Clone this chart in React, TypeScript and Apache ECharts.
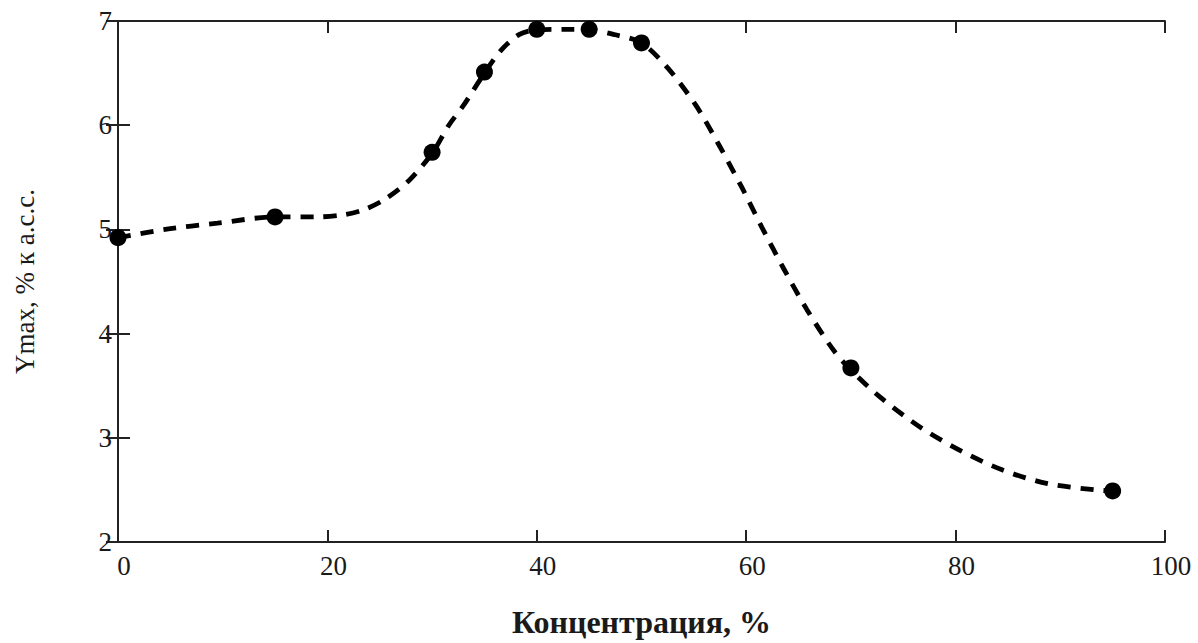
import React, { useEffect, useRef } from "react";
import * as echarts from "echarts";

const xTicks = [0, 20, 40, 60, 80, 100];
const yTicks = [2, 3, 4, 5, 6, 7];

// measured points (markers)
const pointsX = [0, 15, 30, 35, 40, 45, 50, 70, 95];
const pointsY = [4.92, 5.12, 5.74, 6.51, 6.92, 6.92, 6.79, 3.67, 2.49];

// dashed fitted curve
const curveX = [0, 4.5, 9.5, 15, 19, 21.5, 23.5, 25.5, 27.8, 30, 31.6, 33, 35, 36.6, 38.3, 40, 42.5, 45, 47.4, 50, 52.5, 55.2, 57.4, 59.6, 61.5, 63.6, 65.8, 68.2, 69.8, 72.8, 76.8, 80.6, 84.5, 88.8, 93.4, 95];
const curveY = [4.92, 5.0, 5.06, 5.12, 5.12, 5.14, 5.19, 5.29, 5.47, 5.73, 6.0, 6.19, 6.5, 6.72, 6.87, 6.915, 6.92, 6.915, 6.87, 6.79, 6.55, 6.19, 5.81, 5.4, 5.02, 4.62, 4.23, 3.86, 3.67, 3.39, 3.09, 2.87, 2.69, 2.56, 2.5, 2.49];

const xTitle = "Концентрация, %";
const yTitle = "Ymax, % к а.с.с.";

const FONT = "'Liberation Serif', 'DejaVu Serif', serif";
const INK = "#1a1a1a";

export default function App() {
  const ref = useRef<HTMLDivElement>(null);
  useEffect(() => {
    if (!ref.current) return;
    const chart = echarts.init(ref.current, undefined, { renderer: "svg" });
    const axisLine = { show: true, lineStyle: { color: "#222", width: 2 } };
    const axisTick = { show: true, inside: true, length: 12, lineStyle: { color: "#222", width: 2 } };
    const xMin = xTicks[0], xMax = xTicks[xTicks.length - 1];
    const yMin = yTicks[0], yMax = yTicks[yTicks.length - 1];
    chart.setOption({
      animation: false,
      backgroundColor: "#ffffff",
      grid: { left: 118, top: 21, right: 33, bottom: 95, containLabel: false },
      xAxis: [
        {
          type: "value", position: "bottom", min: xMin, max: xMax, interval: 20,
          axisLine, axisTick, splitLine: { show: false },
          axisLabel: { color: INK, fontFamily: FONT, fontSize: 27, margin: 10, padding: [0, 0, 0, 12] },
          name: xTitle, nameLocation: "middle", nameGap: 64,
          nameTextStyle: { color: INK, fontFamily: FONT, fontSize: 32, fontWeight: "bold" },
        },
        {
          type: "value", position: "top", min: xMin, max: xMax, interval: 20,
          axisLine, axisTick, splitLine: { show: false }, axisLabel: { show: false },
        },
      ],
      yAxis: [
        {
          type: "value", position: "left", min: yMin, max: yMax, interval: 1,
          axisLine, axisTick, splitLine: { show: false },
          axisLabel: { color: INK, fontFamily: FONT, fontSize: 27, margin: 6 },
          name: yTitle, nameLocation: "middle", nameGap: 80,
          nameTextStyle: { color: INK, fontFamily: FONT, fontSize: 27 },
        },
        {
          type: "value", position: "right", min: yMin, max: yMax, interval: 1,
          axisLine, axisTick, splitLine: { show: false }, axisLabel: { show: false },
        },
      ],
      series: [
        {
          type: "line",
          xAxisIndex: 0, yAxisIndex: 0,
          data: curveX.map((x, i) => [x, curveY[i]]),
          smooth: 0.3,
          showSymbol: false,
          symbol: "none",
          lineStyle: { color: "#000", width: 4.8, type: [13, 10] },
          z: 2,
        },
        {
          type: "scatter",
          xAxisIndex: 0, yAxisIndex: 0,
          data: pointsX.map((x, i) => [x, pointsY[i]]),
          symbol: "circle",
          symbolSize: 17,
          itemStyle: { color: "#000", opacity: 1 },
          z: 3,
        },
      ],
    });
    return () => chart.dispose();
  }, []);
  return (
    <div
      ref={ref}
      style={{ position: "fixed", left: 0, top: 0, width: 1198, height: 643, background: "#fff" }}
    />
  );
}
